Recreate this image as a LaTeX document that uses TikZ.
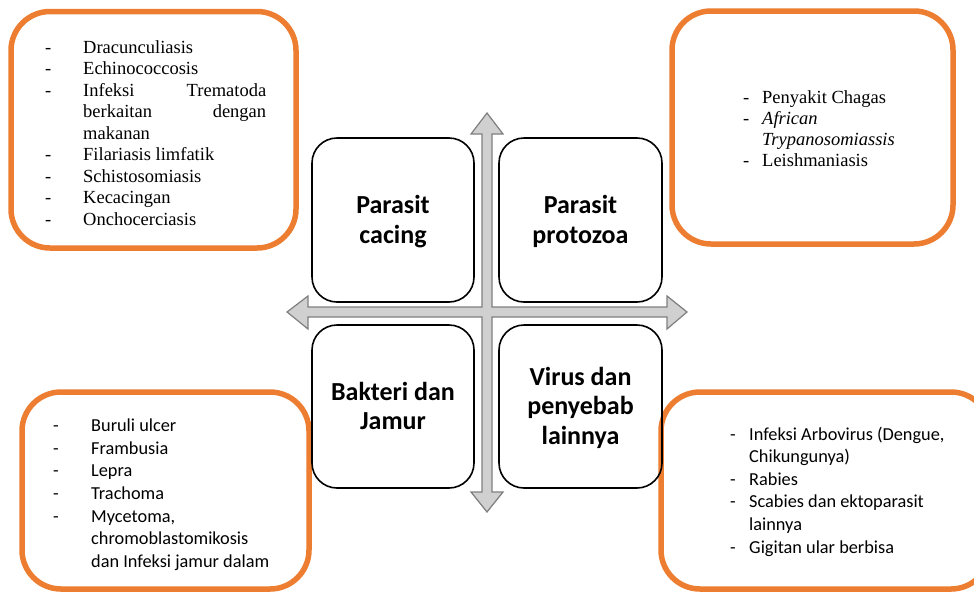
\documentclass[tikz,border=0pt]{standalone}
\usepackage{fontspec}
\setmainfont{Liberation Serif}
\newfontfamily\calfont{Carlito}
\definecolor{orng}{HTML}{ED7D31}
\definecolor{arrfill}{HTML}{D0D0D0}
\definecolor{arrline}{HTML}{7F7F7F}
\newcommand\dl[2]{\hbox{\hbox to #1{-\hfil}#2}}
\newcommand\cl[2]{\hbox{\hskip #1#2}}
\newcommand\jl[2]{\hbox to #1{#2}}
\begin{document}
\begin{tikzpicture}[x=1pt,y=-1pt]
\tikzset{
  catbox/.style={draw=orng, line width=5.5pt, rounded corners=39pt, inner sep=0pt, fill=white},
  groupbox/.style={draw=black, line width=1.6pt, rounded corners=25pt, inner sep=0pt, minimum width=162pt, minimum height=164pt},
  listtext/.style={anchor=base west, inner sep=0pt},
  headtext/.style={anchor=base, inner sep=0pt, font=\calfont\bfseries\fontsize{26pt}{29.5pt}\selectfont},
  crossarrow/.style={fill=arrfill, draw=arrline, line width=1.2pt, line join=miter}
}
\useasboundingbox (0,0) rectangle (974,592);
\clip (0,0) rectangle (974,592);

% orange outer boxes
\node[catbox, minimum width=285pt, minimum height=236.5pt] (otl) at (153.5,129.75) {};
\node[catbox, minimum width=281pt, minimum height=233pt] (otr) at (812.5,127.5) {};
\node[catbox, minimum width=287pt, minimum height=197pt] (obl) at (165.5,490.5) {};
\node[catbox, minimum width=329pt, minimum height=197pt] (obr) at (825.5,490.5) {};

% cross arrow
\draw[crossarrow] (487,113) -- (503,134) -- (492,134) -- (492,307) -- (667,307) -- (667,296)
  -- (687,312) -- (667,329) -- (667,317) -- (492,317) -- (492,492) -- (503,492)
  -- (487,512) -- (471,492) -- (482,492) -- (482,317) -- (308,317) -- (308,329)
  -- (287,312) -- (308,296) -- (308,307) -- (482,307) -- (482,134) -- (471,134) -- cycle;

% inner category boxes
\node[groupbox] (gtl) at (393,220) {};
\node[groupbox, minimum width=163pt] (gtr) at (580.5,220) {};
\node[groupbox, minimum height=163pt] (gbl) at (393,406.5) {};
\node[groupbox, minimum width=163pt, minimum height=163pt] (gbr) at (580.5,406.5) {};

\node[headtext] (htl) at (393,213.5) {\vtop{\halign{\hfil#\hfil\cr Parasit\cr cacing\cr}}};
\node[headtext] (htr) at (580.5,213.5) {\vtop{\halign{\hfil#\hfil\cr Parasit\cr protozoa\cr}}};
\node[headtext] (hbl) at (393,400) {\vtop{\halign{\hfil#\hfil\cr Bakteri dan\cr Jamur\cr}}};
\node[headtext] (hbr) at (580.5,385) {\vtop{\halign{\hfil#\hfil\cr Virus dan\cr penyebab\cr lainnya\cr}}};

% lists
\node[listtext] (ltl) at (45,53.3) {\vtop{\fontsize{18.5pt}{21.5pt}\selectfont
  \dl{38pt}{Dracunculiasis}
  \dl{38pt}{Echinococcosis}
  \dl{38pt}{\jl{183pt}{Infeksi\hfill Trematoda}}
  \cl{38pt}{\jl{183pt}{berkaitan\hfill dengan}}
  \cl{38pt}{makanan}
  \dl{38pt}{Filariasis limfatik}
  \dl{38pt}{Schistosomiasis}
  \dl{38pt}{Kecacingan}
  \dl{38pt}{Onchocerciasis}}};

\node[listtext] (ltr) at (743,103.3) {\vtop{\fontsize{18.5pt}{21.1pt}\selectfont
  \dl{19pt}{Penyakit Chagas}
  \dl{19pt}{\itshape African}
  \cl{19pt}{\itshape Trypanosomiassis}
  \dl{19pt}{Leishmaniasis}}};

\node[listtext] (lbl) at (53,431.7) {\vtop{\calfont\fontsize{18.3pt}{22.6pt}\selectfont
  \dl{38pt}{Buruli ulcer}
  \dl{38pt}{Frambusia}
  \dl{38pt}{Lepra}
  \dl{38pt}{Trachoma}
  \dl{38pt}{Mycetoma,}
  \cl{38pt}{chromoblastomikosis}
  \cl{38pt}{dan Infeksi jamur dalam}}};

\node[listtext] (lbr) at (730,440) {\vtop{\calfont\fontsize{18.3pt}{22.66pt}\selectfont
  \dl{19pt}{Infeksi Arbovirus (Dengue,}
  \cl{19pt}{Chikungunya)}
  \dl{19pt}{Rabies}
  \dl{19pt}{Scabies dan ektoparasit}
  \cl{19pt}{lainnya}
  \dl{19pt}{Gigitan ular berbisa}}};
\end{tikzpicture}
\end{document}
